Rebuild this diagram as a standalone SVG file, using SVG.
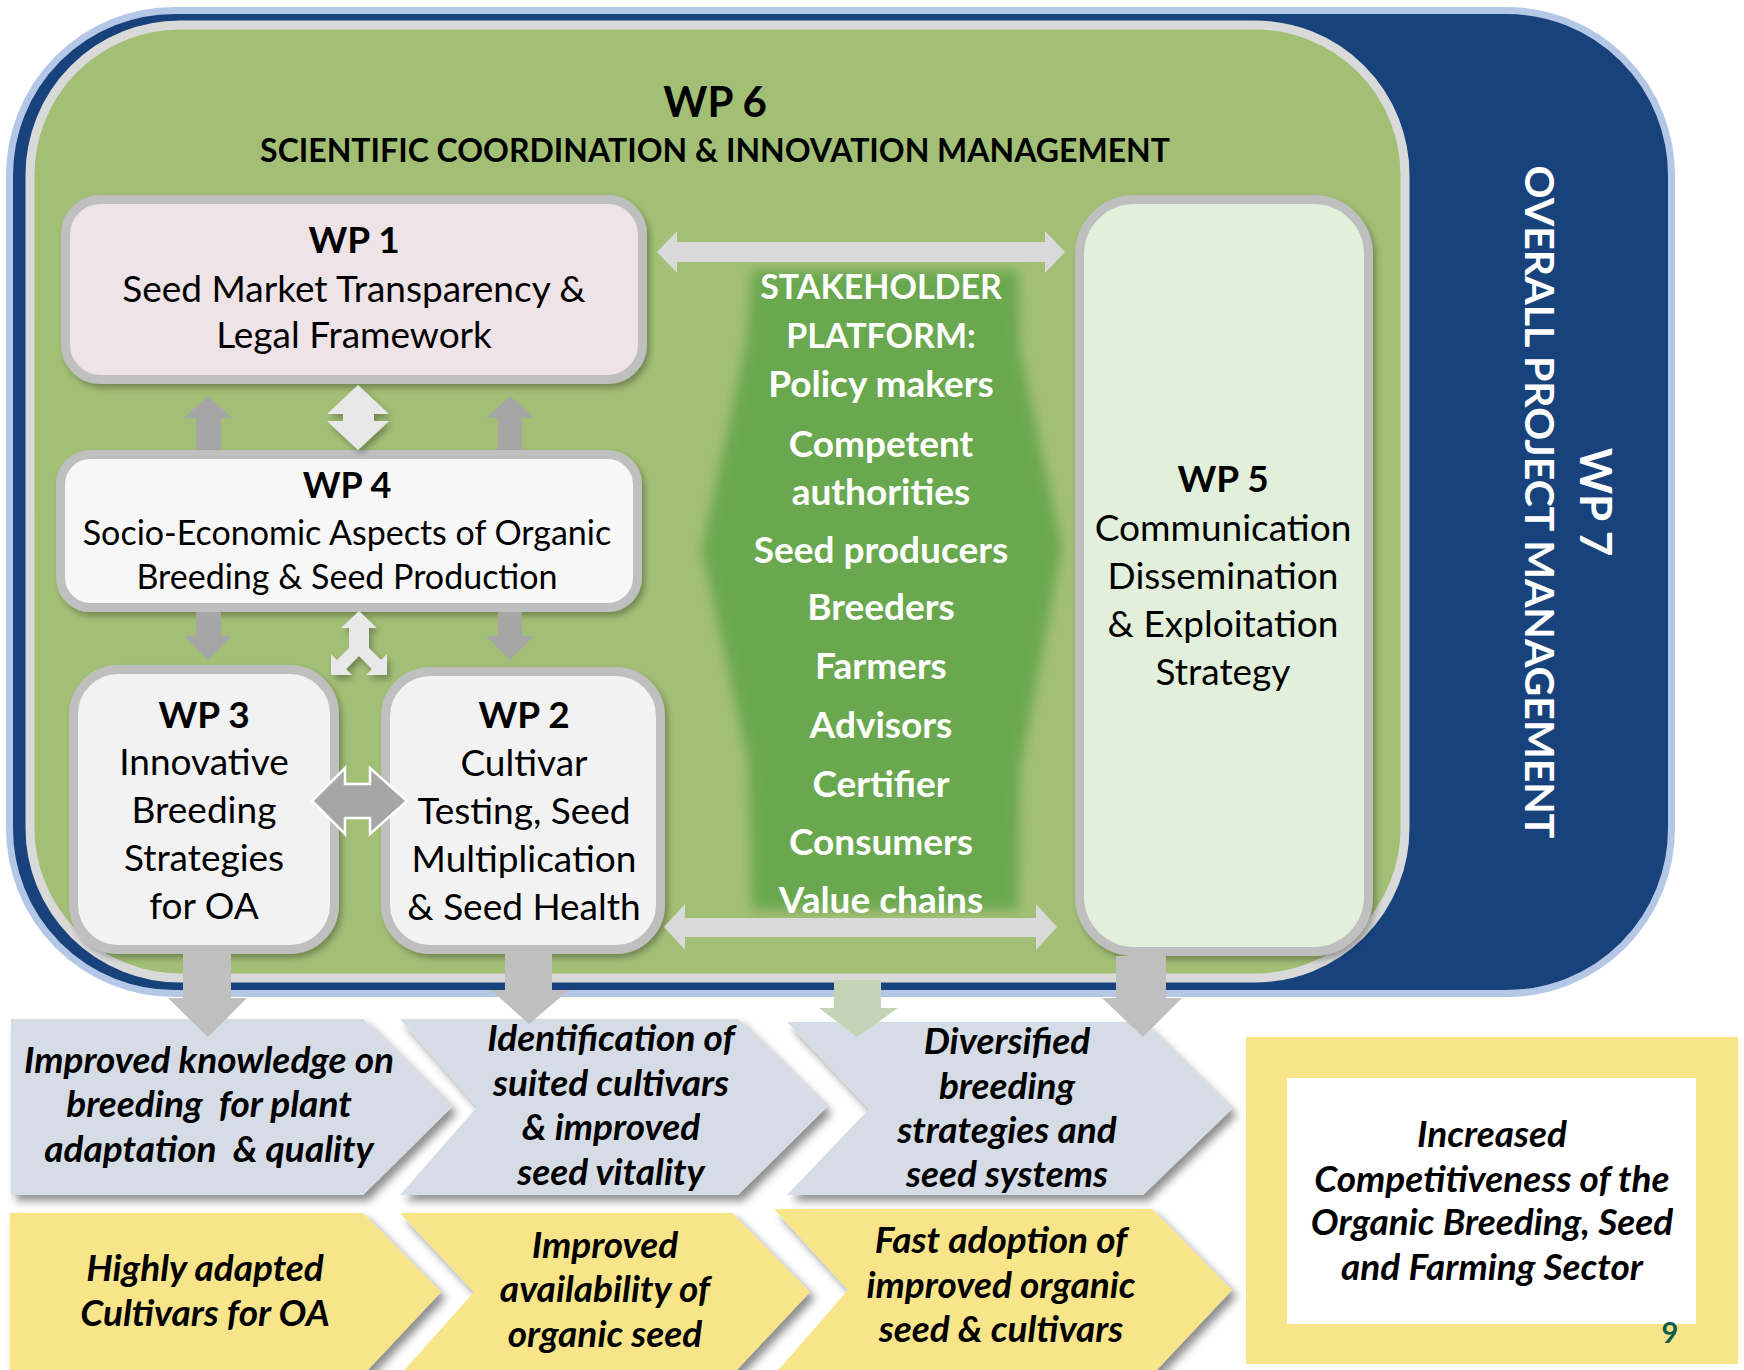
<svg xmlns="http://www.w3.org/2000/svg" width="1744" height="1370" viewBox="0 0 1744 1370">
<defs>
<filter id="sh" x="-10%" y="-10%" width="130%" height="130%">
<feGaussianBlur in="SourceAlpha" stdDeviation="4"/>
<feOffset dx="5" dy="6"/>
<feComponentTransfer><feFuncA type="linear" slope="0.45"/></feComponentTransfer>
<feMerge><feMergeNode/><feMergeNode in="SourceGraphic"/></feMerge>
</filter>
<filter id="shs" x="-10%" y="-10%" width="130%" height="130%">
<feGaussianBlur in="SourceAlpha" stdDeviation="3"/>
<feOffset dx="3" dy="4"/>
<feComponentTransfer><feFuncA type="linear" slope="0.3"/></feComponentTransfer>
<feMerge><feMergeNode/><feMergeNode in="SourceGraphic"/></feMerge>
</filter>
<filter id="blur" x="-20%" y="-10%" width="140%" height="120%">
<feGaussianBlur stdDeviation="6"/>
</filter>
<style>
.t{font-family:Lato,"Liberation Sans",sans-serif;text-anchor:middle;fill:#000}
.b{font-weight:bold}
.bi{font-weight:bold;font-style:italic}
.w{fill:#fff}
.box{stroke:#BFBFBF;stroke-width:9}
.blue{fill:#D6DCE5}
.yel{fill:#F8E58A}
.lt{fill:#D9D9D9}
.lt2{fill:#E8E8E8}
.dk{fill:#A6A6A6}
.dn{fill:#BFBFBF}
</style>
</defs>

<g id="wp7">
<rect x="9.5" y="10.5" width="1662" height="983" rx="165" fill="#17427C" stroke="#B4C7E7" stroke-width="7"/>
<text class="t b w" font-size="41" transform="translate(1525,502) rotate(90)">OVERALL PROJECT MANAGEMENT</text>
<text class="t b w" font-size="44" transform="translate(1580,502) rotate(90)">WP 7</text>
</g>

<g id="wp6">
<rect x="30" y="25" width="1375" height="953" rx="150" fill="#A3BF76" stroke="#D9D9D9" stroke-width="9"/>
<text class="t b" font-size="42" x="715" y="117">WP 6</text>
<text class="t b" font-size="32" x="715" y="162">SCIENTIFIC COORDINATION &amp; INNOVATION MANAGEMENT</text>
</g>

<g id="out1">
<polygon class="blue" filter="url(#sh)" points="11,1019 363,1019 452,1107 363,1195 11,1195"/>
<text class="t bi" font-size="37" xml:space="preserve"><tspan x="209" y="1073">Improved knowledge on</tspan><tspan x="209" y="1117">breeding  for plant</tspan><tspan x="209" y="1162">adaptation  &amp; quality</tspan></text>
</g>
<g id="out2">
<polygon class="blue" filter="url(#sh)" points="400,1019 738,1019 827,1107 738,1195 400,1195 477,1107"/>
<text class="t bi" font-size="37"><tspan x="611" y="1051">Identification of</tspan><tspan x="611" y="1096">suited cultivars</tspan><tspan x="611" y="1140">&amp; improved</tspan><tspan x="611" y="1185">seed vitality</tspan></text>
</g>
<g id="out3">
<polygon class="blue" filter="url(#sh)" points="787,1022 1143,1022 1232,1109 1143,1195 787,1195 869,1109"/>
<text class="t bi" font-size="37"><tspan x="1007" y="1054">Diversified</tspan><tspan x="1007" y="1099">breeding</tspan><tspan x="1007" y="1143">strategies and</tspan><tspan x="1007" y="1187">seed systems</tspan></text>
</g>
<g id="imp1">
<polygon class="yel" filter="url(#sh)" points="10,1213 363,1213 441,1292 363,1375 10,1375"/>
<text class="t bi" font-size="37"><tspan x="205" y="1281">Highly adapted</tspan><tspan x="205" y="1326">Cultivars for OA</tspan></text>
</g>
<g id="imp2">
<polygon class="yel" filter="url(#sh)" points="400,1213 732,1213 810,1292 732,1375 400,1375 474,1292"/>
<text class="t bi" font-size="37"><tspan x="605" y="1258">Improved</tspan><tspan x="605" y="1302">availability of</tspan><tspan x="605" y="1347">organic seed</tspan></text>
</g>
<g id="imp3">
<polygon class="yel" filter="url(#sh)" points="774,1209 1152,1209 1232,1290 1152,1375 774,1375 848,1290"/>
<text class="t bi" font-size="37"><tspan x="1001" y="1253">Fast adoption of</tspan><tspan x="1001" y="1298">improved organic</tspan><tspan x="1001" y="1342">seed &amp; cultivars</tspan></text>
</g>
<g id="goal">
<rect class="yel" x="1246" y="1037" width="492" height="327"/>
<rect x="1287" y="1078" width="409" height="246" fill="#fff"/>
<text class="t bi" font-size="37"><tspan x="1492" y="1147">Increased</tspan><tspan x="1492" y="1192">Competitiveness of the</tspan><tspan x="1492" y="1235">Organic Breeding, Seed</tspan><tspan x="1492" y="1280">and Farming Sector</tspan></text>
<text class="t b" font-size="29" x="1670" y="1343" style="fill:#0D5C4D">9</text>
</g>

<g id="platform">
<polygon filter="url(#blur)" fill="#6AA84F" points="752,270 1018,270 1020,350 1062,548 1020,770 1018,910 752,910 748,760 702,549 746,345"/>
<text class="t b w" font-size="34"><tspan x="881" y="299">STAKEHOLDER</tspan><tspan x="881" y="348">PLATFORM:</tspan></text>
<text class="t b w" font-size="37"><tspan x="881" y="397">Policy makers</tspan><tspan x="881" y="457">Competent</tspan><tspan x="881" y="505">authorities</tspan><tspan x="881" y="563">Seed producers</tspan><tspan x="881" y="620">Breeders</tspan><tspan x="881" y="679">Farmers</tspan><tspan x="881" y="738">Advisors</tspan><tspan x="881" y="797">Certifier</tspan><tspan x="881" y="855">Consumers</tspan><tspan x="881" y="913">Value chains</tspan></text>
</g>

<g id="wp1">
<rect class="box" filter="url(#shs)" x="65.5" y="199.5" width="577" height="180" rx="35" fill="#EEE3E7"/>
<text class="t" font-size="37"><tspan class="b" x="354" y="253">WP 1</tspan><tspan x="354" y="302">Seed Market Transparency &amp;</tspan><tspan x="354" y="348">Legal Framework</tspan></text>
</g>
<g id="wp4">
<rect class="box" filter="url(#shs)" x="60.5" y="454.5" width="577" height="153" rx="30" fill="#F7F7F7"/>
<text class="t" font-size="34"><tspan class="b" font-size="36" x="347" y="498">WP 4</tspan><tspan x="347" y="545">Socio-Economic Aspects of Organic</tspan><tspan x="347" y="589">Breeding &amp; Seed Production</tspan></text>
</g>
<g id="wp3">
<rect class="box" filter="url(#shs)" x="73.5" y="669.5" width="261" height="280" rx="45" fill="#F2F2F2"/>
<text class="t" font-size="37"><tspan class="b" x="204" y="728">WP 3</tspan><tspan x="204" y="775">Innovative</tspan><tspan x="204" y="823">Breeding</tspan><tspan x="204" y="871">Strategies</tspan><tspan x="204" y="919">for OA</tspan></text>
</g>
<g id="wp2">
<rect class="box" filter="url(#shs)" x="385.5" y="671.5" width="275" height="278" rx="45" fill="#F2F2F2"/>
<text class="t" font-size="37"><tspan class="b" x="524" y="728">WP 2</tspan><tspan x="524" y="776">Cultivar</tspan><tspan x="524" y="824">Testing, Seed</tspan><tspan x="524" y="872">Multiplication</tspan><tspan x="524" y="920">&amp; Seed Health</tspan></text>
</g>
<g id="wp5">
<rect class="box" filter="url(#shs)" x="1079.5" y="199.5" width="289" height="752" rx="55" fill="#E2EFDA"/>
<text class="t" font-size="37"><tspan class="b" x="1223" y="492">WP 5</tspan><tspan x="1223" y="541">Communication</tspan><tspan x="1223" y="589">Dissemination</tspan><tspan x="1223" y="637">&amp; Exploitation</tspan><tspan x="1223" y="685">Strategy</tspan></text>
</g>

<g id="connectors">
<polygon class="lt" points="657,252 677,231 677,242 1045,242 1045,231 1065,252 1045,273 1045,262 677,262 677,273"/>
<polygon class="lt" points="664,927 685,904 685,918 1036,918 1036,904 1057,927 1036,950 1036,937 685,937 685,950"/>
<polygon class="dk" points="208,396 232,418 221,418 221,450 196,450 196,418 184,418"/>
<polygon class="dk" points="510,396 534,418 522,418 522,450 498,450 498,418 486,418"/>
<polygon class="lt2" filter="url(#shs)" points="358,385 389,414 374,414 374,421 389,421 358,450 327,421 343,421 343,414 327,414"/>
<polygon class="dk" points="196,612 221,612 221,636 232,636 208,660 184,636 196,636"/>
<polygon class="dk" points="498,612 522,612 522,636 534,636 510,660 486,636 498,636"/>
<polygon class="lt2" filter="url(#shs)" points="359,611 377,628 369,628 369,648 381,660 387,654 387,675 366,675 372,669 359,656 346,669 352,675 331,675 331,654 337,660 349,648 349,628 341,628"/>
<polygon class="dk" stroke="#fff" stroke-width="2.5" points="312,801 345,768 345,784 370,784 370,768 407,801 370,834 370,818 345,818 345,834"/>
<polygon class="dn" points="183,954 231,954 231,998 247,998 208,1037 168,998 183,998"/>
<polygon class="dn" points="505,954 552,954 552,990 569,990 529,1024 491,990 505,990"/>
<polygon fill="#C5D3B6" points="834,980 881,980 881,1008 898,1008 857,1037 819,1008 834,1008"/>
<polygon class="dn" points="1116,956 1166,956 1166,998 1182,998 1143,1037 1102,998 1116,998"/>
</g>
</svg>
